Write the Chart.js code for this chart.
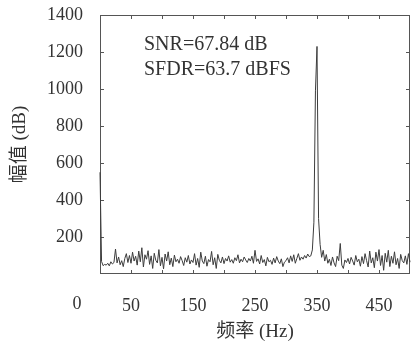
<!DOCTYPE html>
<html>
<head>
<meta charset="utf-8">
<script src="https://cdn.jsdelivr.net/npm/chart.js@4"></script>
<style>
  html, body { margin: 0; padding: 0; background: #fff; }
  #spec { display: block; }
</style>
</head>
<body>
<canvas id="spec" width="411" height="345"></canvas>
<script>
// spectrum sampled every 2.5 Hz from 0 to 500 Hz
const freqStep = 2.5;
const amplitude = [
  550, 68, 45, 52, 48, 58, 44, 66, 54, 62,
  135, 60, 92, 50, 72, 40, 84, 110, 62, 100,
  58, 118, 70, 96, 48, 124, 66, 142, 38, 104,
  80, 126, 52, 98, 30, 112, 74, 60, 132, 44,
  90, 28, 108, 70, 120, 50, 86, 40, 102, 66,
  80, 58, 94, 72, 46, 88, 64, 100, 54, 76,
  62, 110, 48, 84, 36, 118, 70, 56, 96, 42,
  78, 66, 122, 50, 88, 30, 106, 74, 60, 92,
  56, 84, 70, 98, 64, 78, 58, 88, 72, 104,
  60, 80, 66, 92, 76, 62, 84, 70, 96, 58,
  128, 68, 82, 54, 100, 62, 78, 44, 90, 66,
  74, 52, 86, 60, 94, 70, 56, 82, 40, 64,
  72, 88, 60, 98, 68, 104, 58, 84, 110, 74,
  92, 80, 100, 86, 108, 94, 98, 130, 280, 990,
  1230, 300, 160, 90, 128, 70, 105, 58, 80, 46,
  92, 60, 40, 96, 72, 165, 48, 30, 76, 62,
  84, 54, 90, 70, 48, 100, 66, 80, 42, 94,
  56, 110, 72, 38, 124, 60, 88, 34, 118, 70,
  132, 46, 100, 20, 112, 64, 128, 40, 96, 58,
  120, 50, 84, 30, 106, 72, 60, 98, 52, 110,
  64
];
const xTickLabels = [50, 150, 250, 350, 450];
const yTickLabels = [200, 400, 600, 800, 1000, 1200, 1400];
const notes = ['SNR=67.84 dB', 'SFDR=63.7 dBFS'];

const serif = '"Liberation Serif", "Noto Sans CJK SC", serif';
const ink = '#333';
const frameColor = '#555';

const points = amplitude.map((v, i) => ({ x: i * freqStep, y: v }));

// frame with inward ticks on all four sides, plus the stray "0" label and notes
const framePlugin = {
    id: 'frame',
    beforeDatasetsDraw(chart) {
        const { ctx, chartArea: a, scales } = chart;
        ctx.save();
        ctx.strokeStyle = frameColor;
        ctx.lineWidth = 1;
        ctx.strokeRect(a.left + 0.5, a.top + 0.5, a.right - a.left - 1, a.bottom - a.top - 1);

        ctx.beginPath();
        for (let v = 50; v < 500; v += 50) {
            const px = Math.round(scales.x.getPixelForValue(v)) + 0.5;
            ctx.moveTo(px, a.bottom); ctx.lineTo(px, a.bottom - 4);
            ctx.moveTo(px, a.top); ctx.lineTo(px, a.top + 4);
        }
        for (let v = 200; v < 1400; v += 200) {
            const py = Math.round(scales.y.getPixelForValue(v)) + 0.5;
            ctx.moveTo(a.left, py); ctx.lineTo(a.left + 4, py);
            ctx.moveTo(a.right, py); ctx.lineTo(a.right - 4, py);
        }
        ctx.stroke();

        ctx.fillStyle = ink;
        ctx.font = '18px ' + serif;
        ctx.textAlign = 'center';
        ctx.textBaseline = 'middle';
        ctx.fillText('0', a.left - 23, 304);

        ctx.font = '20px ' + serif;
        ctx.textAlign = 'left';
        ctx.textBaseline = 'alphabetic';
        ctx.fillText(notes[0], 144, 50);
        ctx.fillText(notes[1], 144, 75);
        ctx.restore();
    }
};

new Chart(document.getElementById('spec'), {
    type: 'line',
    data: {
        datasets: [{
            data: points,
            borderColor: '#3c3c3c',
            borderWidth: 1,
            pointRadius: 0,
            tension: 0,
            clip: 2
        }]
    },
    options: {
        responsive: false,
        animation: false,
        devicePixelRatio: 1,
        layout: { padding: { top: 15, right: 1, left: 0, bottom: 0 } },
        plugins: { legend: { display: false }, tooltip: { enabled: false } },
        scales: {
            x: {
                type: 'linear',
                min: 0,
                max: 500,
                afterBuildTicks: s => { s.ticks = xTickLabels.map(v => ({ value: v })); },
                afterFit: s => { s.height = 71; s.paddingLeft = 0; s.paddingRight = 0; },
                grid: { display: false, drawTicks: false },
                border: { display: false },
                ticks: {
                    color: ink,
                    padding: 21,
                    maxRotation: 0,
                    autoSkip: false,
                    callback: v => String(v),
                    font: { family: serif, size: 18 }
                },
                title: {
                    display: true,
                    text: '频率 (Hz)',
                    color: ink,
                    font: { family: serif, size: 19 },
                    padding: { top: 0, bottom: 2 }
                }
            },
            y: {
                min: 0,
                max: 1400,
                afterBuildTicks: s => { s.ticks = yTickLabels.map(v => ({ value: v })); },
                afterFit: s => { s.width = 100; s.paddingTop = 0; s.paddingBottom = 0; },
                grid: { display: false, drawTicks: false },
                border: { display: false },
                ticks: {
                    color: ink,
                    padding: 17,
                    autoSkip: false,
                    callback: v => String(v),
                    font: { family: serif, size: 18 }
                },
                title: {
                    display: true,
                    text: '幅值 (dB)',
                    color: ink,
                    font: { family: serif, size: 19 },
                    padding: { top: 9, bottom: 0 }
                }
            }
        }
    },
    plugins: [framePlugin]
});
</script>
</body>
</html>
